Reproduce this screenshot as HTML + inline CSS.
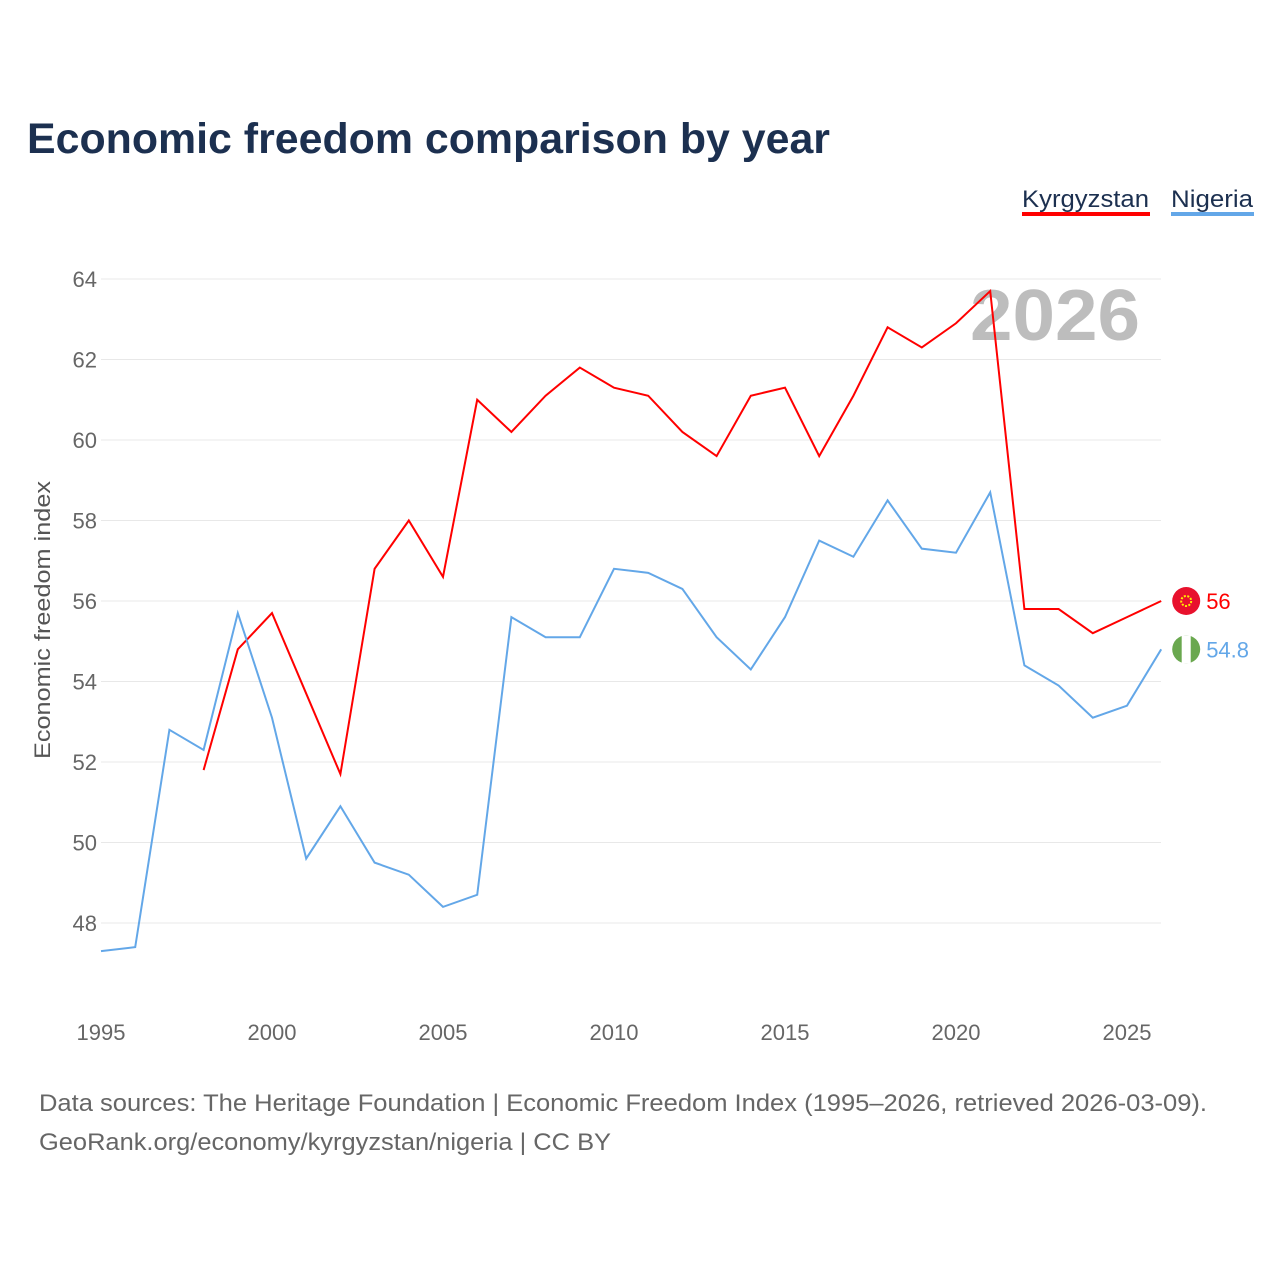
<!DOCTYPE html>
<html><head><meta charset="utf-8"><style>
body{margin:0;background:#fff;font-family:"Liberation Sans",sans-serif;}
</style></head><body>
<svg id="chart" width="1280" height="1280" xmlns="http://www.w3.org/2000/svg">
<text x="27" y="153" font-size="43" font-weight="bold" fill="#1c3050" textLength="803" lengthAdjust="spacingAndGlyphs">Economic freedom comparison by year</text>
<g>
<text x="1022" y="207" font-size="24" fill="#1c3050" textLength="127" lengthAdjust="spacingAndGlyphs">Kyrgyzstan</text>
<rect x="1022" y="212" width="128" height="4" fill="#ff0000"/>
<text x="1171" y="207" font-size="24" fill="#1c3050" textLength="82" lengthAdjust="spacingAndGlyphs">Nigeria</text>
<rect x="1171" y="212" width="83" height="4" fill="#63a7e8"/>
</g>
<text x="970" y="340" font-size="72" font-weight="bold" fill="#bdbdbd" textLength="170" lengthAdjust="spacingAndGlyphs">2026</text>
<g id="grid"></g>
<g id="xaxis"></g>
<text transform="translate(50,620) rotate(-90)" font-size="22" fill="#555" text-anchor="middle" textLength="278" lengthAdjust="spacingAndGlyphs">Economic freedom index</text>
<g id="series"></g>
<text x="39" y="1111" font-size="24" fill="#666" textLength="1168" lengthAdjust="spacingAndGlyphs">Data sources: The Heritage Foundation | Economic Freedom Index (1995–2026, retrieved 2026-03-09).</text>
<text x="39" y="1150" font-size="24" fill="#666" textLength="572" lengthAdjust="spacingAndGlyphs">GeoRank.org/economy/kyrgyzstan/nigeria | CC BY</text>
</svg>
<script>
const years=[1995,1996,1997,1998,1999,2000,2001,2002,2003,2004,2005,2006,2007,2008,2009,2010,2011,2012,2013,2014,2015,2016,2017,2018,2019,2020,2021,2022,2023,2024,2025,2026];
const kyrgyzstan=[null,null,null,51.8,54.8,55.7,53.7,51.7,56.8,58.0,56.6,61.0,60.2,61.1,61.8,61.3,61.1,60.2,59.6,61.1,61.3,59.6,61.1,62.8,62.3,62.9,63.7,55.8,55.8,55.2,55.6,56.0];
const nigeria=[47.3,47.4,52.8,52.3,55.7,53.1,49.6,50.9,49.5,49.2,48.4,48.7,55.6,55.1,55.1,56.8,56.7,56.3,55.1,54.3,55.6,57.5,57.1,58.5,57.3,57.2,58.7,54.4,53.9,53.1,53.4,54.8];
const yTicks=[48,50,52,54,56,58,60,62,64];
const xTicks=[1995,2000,2005,2010,2015,2020,2025];
const NS="http://www.w3.org/2000/svg";
const X=y=>101+(y-1995)*34.2;
const Y=v=>923-(v-48)*40.25;
function mk(t,a,p){const e=document.createElementNS(NS,t);for(const k in a)e.setAttribute(k,a[k]);p.appendChild(e);return e;}
const grid=document.getElementById('grid');
yTicks.forEach(v=>{
 const l=mk('line',{x1:101,x2:1161,y1:Y(v),y2:Y(v),stroke:'#e8e8e8','stroke-width':1},grid);
 
 
 const t=mk('text',{x:97,y:Y(v)+8,'font-size':22,fill:'#666','text-anchor':'end'},grid);
 t.textContent=v;
 
 
});
const xa=document.getElementById('xaxis');
xTicks.forEach(v=>{
 const t=mk('text',{x:X(v),y:1040,'font-size':22,fill:'#666','text-anchor':'middle'},xa);
 t.textContent=v;
 
 
});
const sg=document.getElementById('series');
function draw(vals,color,name,label,flag){
 let d='';vals.forEach((v,i)=>{if(v==null)return;d+=(d?'L':'M')+X(years[i])+','+Y(v);});
 const p=mk('path',{d:d,fill:'none',stroke:color,'stroke-width':2},sg);
 
 
 const last=vals[vals.length-1],lx=X(years[years.length-1])+25,ly=Y(last);
 const g=mk('g',{},sg);
 
 
 flag(g,lx,ly);
 const t=mk('text',{x:lx+20,y:ly+8,'font-size':22,fill:color},sg);
 t.textContent=label(last);
 
 
}
draw(kyrgyzstan,'#ff0000','kyrgyzstan',v=>String(v),(g,x,y)=>{
 mk('circle',{cx:x,cy:y,r:14,fill:'#e8112d'},g);
 mk('circle',{cx:x,cy:y,r:5,fill:'none',stroke:'#ffef00','stroke-width':2,'stroke-dasharray':'2 1.5'},g);
});
draw(nigeria,'#63a7e8','nigeria',v=>String(v),(g,x,y)=>{
 mk('circle',{cx:x,cy:y,r:14,fill:'#6aa84f'},g);
 mk('rect',{x:x-4.5,y:y-14,width:9,height:28,fill:'#fff'},g);
});
</script>
</body></html>
